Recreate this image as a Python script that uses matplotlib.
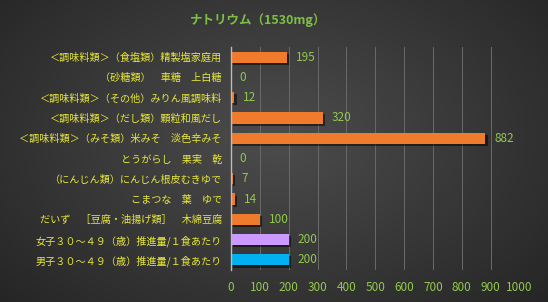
import numpy as np
import matplotlib
matplotlib.use("Agg")
import matplotlib.pyplot as plt
import matplotlib.patheffects as pe

plt.rcParams['font.family'] = ['Noto Sans CJK JP', 'DejaVu Sans']

categories = [
    "＜調味料類＞（食塩類）精製塩家庭用",
    "（砂糖類）　車糖　上白糖",
    "＜調味料類＞（その他）みりん風調味料",
    "＜調味料類＞（だし類）顆粒和風だし",
    "＜調味料類＞（みそ類）米みそ　淡色辛みそ",
    "とうがらし　果実　乾",
    "（にんじん類）にんじん根皮むきゆで",
    "こまつな　葉　ゆで",
    "だいず　［豆腐・油揚げ類］　木綿豆腐",
    "女子３０～４９（歳）推進量/１食あたり",
    "男子３０～４９（歳）推進量/１食あたり",
]
values = [195, 0, 12, 320, 882, 0, 7, 14, 100, 200, 200]
colors = ["#F07B2C"] * 9 + ["#CC99FF", "#00B0F0"]
title = "ナトリウム（1530mg）"
xticks = [0, 100, 200, 300, 400, 500, 600, 700, 800, 900, 1000]

W, H = 548, 302
fig = plt.figure(figsize=(W / 100, H / 100), dpi=100)

# background gradient
bg = fig.add_axes([0, 0, 1, 1])
yy, xx = np.mgrid[0:H, 0:W]
cx, cy = W * 0.5, H * 0.45
r = np.sqrt(((xx - cx) / (W * 0.75)) ** 2 + ((yy - cy) / (H * 0.9)) ** 2)
shade = np.clip(0.30 - 0.17 * r, 0.10, 0.30)
img = np.dstack([shade, shade, shade])
bg.imshow(img, aspect='auto', extent=[0, 1, 0, 1])
bg.set_axis_off()

n = len(categories)
ax = fig.add_axes([231 / W, 1 - 270 / H, (519.5 - 231) / W, (270 - 47) / H])
ax.set_facecolor('none')
ypos = np.arange(n)
bars = ax.barh(ypos, values, height=0.55, color=colors, zorder=3,
               path_effects=[pe.SimplePatchShadow(offset=(1.5, -1.5), shadow_rgbFace='black', alpha=0.5), pe.Normal()])
ax.set_ylim(n - 0.5, -0.5)
ax.set_xlim(0, 1000)
ax.set_xticks(xticks)
ax.set_xticklabels([str(t) for t in xticks], color='#92C84E', fontsize=8.5)
ax.set_yticks(ypos)
ax.set_yticklabels(categories, color='#E8E83A', fontsize=7.3)
ax.tick_params(axis='both', length=0)
ax.tick_params(axis='y', pad=6.5)
ax.tick_params(axis='x', pad=8)
ax.grid(axis='x', color='#6a6a6a', linewidth=0.7, zorder=0)
for s in ['top', 'right', 'bottom']:
    ax.spines[s].set_visible(False)
ax.spines['left'].set_color('#BBBBBB')
ax.spines['left'].set_linewidth(1)
ax.spines['left'].set_zorder(4)

for y, v in zip(ypos, values):
    ax.text(v + 30, y, str(v), color='#92C84E', fontsize=8.5, va='center', ha='left')

fig.text(258 / W, 1 - 20 / H, title, color='#7DBE45', fontsize=9, fontweight='bold',
         ha='center', va='center')

fig.savefig('out.png', dpi=100)
